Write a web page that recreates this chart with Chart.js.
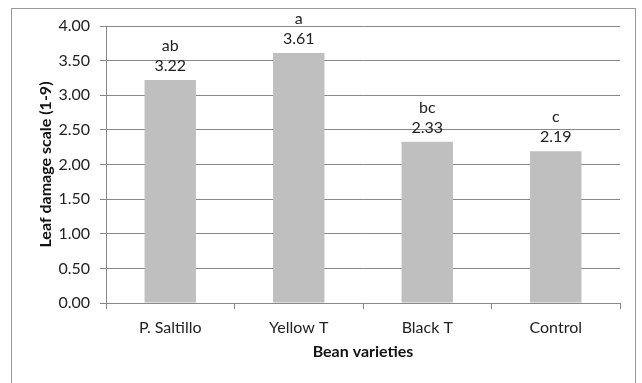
<!DOCTYPE html>
<html>
<head>
<meta charset="utf-8">
<script src="https://cdn.jsdelivr.net/npm/chart.js@4"></script>
<style>
  html, body { margin: 0; padding: 0; background: #fff; }
  #wrap { width: 642px; height: 383px; position: relative; }
</style>
</head>
<body>
<div id="wrap"><canvas id="damageChart" width="642" height="383"></canvas></div>
<script>
// Leaf damage by bean variety
const varieties = ['P. Saltillo', 'Yellow T', 'Black T', 'Control'];
const damage = [3.22, 3.61, 2.33, 2.19];
const groups = ['ab', 'a', 'bc', 'c'];

const textFont = 'Lato, "Open Sans", sans-serif';
const gridGray = '#888888';

// outer frame like the spreadsheet chart box
const framePlugin = {
    id: 'frame',
    beforeDraw(chart) {
        const c = chart.ctx;
        c.save();
        c.fillStyle = '#fff';
        c.fillRect(0, 0, chart.width, chart.height);
        c.strokeStyle = '#9a9a9a';
        c.lineWidth = 1;
        c.strokeRect(11.5, 8.5, 624, 400);
        c.restore();
    }
};

// two-line labels above each bar: letter group + value
const barLabels = {
    id: 'barLabels',
    afterDatasetsDraw(chart) {
        const c = chart.ctx;
        const meta = chart.getDatasetMeta(0);
        c.save();
        c.font = '16px ' + textFont;
        c.fillStyle = '#222';
        c.textAlign = 'center';
        c.textBaseline = 'middle';
        meta.data.forEach(function(bar, i) {
            c.fillText(damage[i].toFixed(2), bar.x, bar.y - 14);
            c.fillText(groups[i], bar.x, bar.y - 34);
        });
        c.restore();
    }
};

new Chart(document.getElementById('damageChart'), {
    type: 'bar',
    data: {
        labels: varieties,
        datasets: [{
            data: damage,
            backgroundColor: '#bfbfbf',
            borderWidth: 0,
            categoryPercentage: 1,
            barPercentage: 0.4
        }]
    },
    options: {
        responsive: false,
        animation: false,
        layout: { padding: { top: 26, right: 22, bottom: 20, left: 0 } },
        plugins: {
            legend: { display: false },
            tooltip: { enabled: false }
        },
        scales: {
            x: {
                grid: {
                    offset: true,
                    drawOnChartArea: false,
                    drawTicks: true,
                    tickLength: 6,
                    color: gridGray
                },
                border: { color: gridGray },
                ticks: {
                    color: '#222',
                    padding: 9,
                    font: { family: textFont, size: 16 }
                },
                title: {
                    display: true,
                    text: 'Bean varieties',
                    color: '#111',
                    padding: { top: 0, bottom: 2 },
                    font: { family: textFont, size: 16, weight: 'bold' }
                },
                afterFit(scale) { scale.height = 60; }
            },
            y: {
                min: 0,
                max: 4,
                grid: {
                    color: gridGray,
                    tickLength: 6
                },
                border: { color: gridGray },
                ticks: {
                    stepSize: 0.5,
                    color: '#222',
                    padding: 10,
                    font: { family: textFont, size: 16 }
                    ,
                    callback: function(v) { return Number(v).toFixed(2); }
                },
                title: {
                    display: true,
                    text: 'Leaf damage scale (1-9)',
                    color: '#111',
                    padding: { top: 36, bottom: 0 },
                    font: { family: textFont, size: 16, weight: 'bold' }
                },
                afterFit(scale) { scale.width = 106; }
            }
        }
    },
    plugins: [framePlugin, barLabels]
});
</script>
</body>
</html>
